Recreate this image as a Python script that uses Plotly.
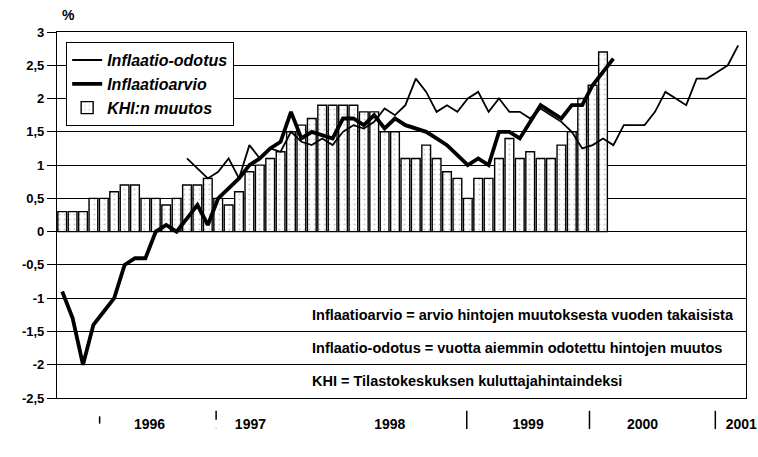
import plotly.graph_objects as go

# ---- data (monthly, Oct 1995 onwards) ----
start_year, start_month = 1995, 10
n_months = 66
months = [f"{start_year + (start_month - 1 + i) // 12}-{(start_month - 1 + i) % 12 + 1:02d}" for i in range(n_months)]

khi_muutos = [0.3, 0.3, 0.3, 0.5, 0.5, 0.6, 0.7, 0.7, 0.5, 0.5, 0.4, 0.5, 0.7, 0.7, 0.8,
              0.5, 0.4, 0.6, 0.9, 1.0, 1.1, 1.2, 1.5, 1.6, 1.7, 1.9, 1.9, 1.9, 1.9, 1.8,
              1.8, 1.5, 1.5, 1.1, 1.1, 1.3, 1.1, 0.9, 0.8, 0.5, 0.8, 0.8, 1.1, 1.4, 1.1,
              1.2, 1.1, 1.1, 1.3, 1.5, 2.0, 2.2, 2.7]

inflaatioarvio = [-0.9, -1.3, -2.0, -1.4, -1.2, -1.0, -0.5, -0.4, -0.4, 0.0, 0.1, 0.0,
                  0.2, 0.4, 0.1, 0.5, 0.65, 0.8, 1.0, 1.1, 1.25, 1.35, 1.8, 1.4, 1.5,
                  1.45, 1.4, 1.7, 1.7, 1.6, 1.75, 1.55, 1.7, 1.6, 1.55, 1.5, 1.4, 1.3,
                  1.15, 1.0, 1.1, 1.0, 1.5, 1.5, 1.4, 1.65, 1.9, 1.8, 1.7, 1.9, 1.9,
                  2.2, 2.4, 2.6]

odotus_offset = 12  # expectation made a year earlier
inflaatio_odotus = [1.1, 0.95, 0.8, 0.9, 1.1, 0.8, 1.3, 1.1, 1.25, 1.2, 1.5, 1.35, 1.3,
                    1.4, 1.3, 1.5, 1.6, 1.55, 1.65, 1.85, 1.75, 1.9, 2.3, 2.1, 1.8, 1.9,
                    1.8, 2.0, 2.1, 1.8, 2.0, 1.8, 1.8, 1.7, 1.85, 1.75, 1.65, 1.5, 1.25,
                    1.3, 1.4, 1.3, 1.6, 1.6, 1.6, 1.8, 2.1, 2.0, 1.9, 2.3, 2.3, 2.4, 2.5,
                    2.8]

y_ticks = [3, 2.5, 2, 1.5, 1, 0.5, 0, -0.5, -1, -1.5, -2, -2.5]
y_ticktext = [str(v).replace(".", ",") for v in y_ticks]

year_labels = ["1996", "1997", "1998", "1999", "2000", "2001"]
year_label_pos = [8.4, 18.1, 31.5, 44.8, 55.8, 65.3]   # month index where label sits
year_breaks = [3.6, 14.8, 38.9, 50.7, 62.8]             # separators below axis
year_break_dash = ["dash", "dash", "solid", "solid", "solid"]

notes = ["Inflaatioarvio = arvio hintojen muutoksesta vuoden takaisista",
         "Inflaatio-odotus = vuotta aiemmin odotettu hintojen muutos",
         "KHI = Tilastokeskuksen kuluttajahintaindeksi"]
note_y = [-1.25, -1.75, -2.25]

FONT = "Liberation Sans, Arial, sans-serif"

x_all = list(range(n_months))
fig = go.Figure()

fig.add_trace(go.Scatter(
    x=x_all[odotus_offset:odotus_offset + len(inflaatio_odotus)], y=inflaatio_odotus,
    mode="lines", name="Inflaatio-odotus", line=dict(color="black", width=1.8)))
fig.add_trace(go.Scatter(
    x=x_all[:len(inflaatioarvio)], y=inflaatioarvio,
    mode="lines", name="Inflaatioarvio", line=dict(color="black", width=3.8)))
fig.add_trace(go.Bar(
    x=x_all[:len(khi_muutos)], y=khi_muutos, name="KHI:n muutos",
    marker=dict(color="white", line=dict(color="black", width=1.4),
                pattern=dict(shape=".", fgcolor="#999999", size=5, solidity=0.15))))

fig.update_layout(
    width=758, height=457,
    margin=dict(l=57, r=12, t=32, b=59, autoexpand=False),
    paper_bgcolor="white", plot_bgcolor="white",
    bargap=0.16,
    showlegend=True,
    legend=dict(x=0.013, y=0.973, xanchor="left", yanchor="top",
                bgcolor="white", bordercolor="black", borderwidth=1.2,
                font=dict(family=FONT, size=16, color="black", weight="bold", style="italic"),
                tracegroupgap=0, itemwidth=30),
    font=dict(family=FONT, color="black"),
)

fig.update_xaxes(range=[-0.5, 65.75], showgrid=False, zeroline=False, automargin=False,
                 showline=True, linecolor="black", linewidth=1.2, mirror=True,
                 tickmode="array", tickvals=year_label_pos, ticktext=year_labels,
                 ticks="", ticklabelstandoff=13,
                 tickfont=dict(family=FONT, size=14, color="black", weight="bold"))
fig.update_yaxes(range=[-2.5, 3], showgrid=True, gridcolor="black", gridwidth=1,
                 zeroline=True, zerolinecolor="black", zerolinewidth=1.2, automargin=False,
                 showline=True, linecolor="black", linewidth=1.2, mirror=True,
                 tickmode="array", tickvals=y_ticks, ticktext=y_ticktext,
                 ticks="outside", ticklen=9, tickcolor="black", tickwidth=1,
                 tickfont=dict(family=FONT, size=13, color="black", weight="bold"))

for xb, d in zip(year_breaks, year_break_dash):
    fig.add_shape(type="line", xref="x", yref="paper", x0=xb, x1=xb,
                  y0=-0.035 if xb > 10 else -0.05, y1=-0.085 if xb > 10 else -0.07,
                  line=dict(color="black", width=1.5, dash=d))

for txt, yv in zip(notes, note_y):
    fig.add_annotation(text=txt, xref="paper", yref="y", x=0.367, y=yv,
                       xanchor="left", yanchor="middle", showarrow=False,
                       font=dict(family=FONT, size=14.5, color="black", weight="bold"))

fig.add_annotation(text="%", xref="paper", yref="paper", x=0.004, y=1.02,
                   xanchor="left", yanchor="bottom", showarrow=False,
                   font=dict(family=FONT, size=14, color="black", weight="bold"))

fig.write_html("out.html", config={"displayModeBar": False},
               post_script="document.body.style.margin='0';")
